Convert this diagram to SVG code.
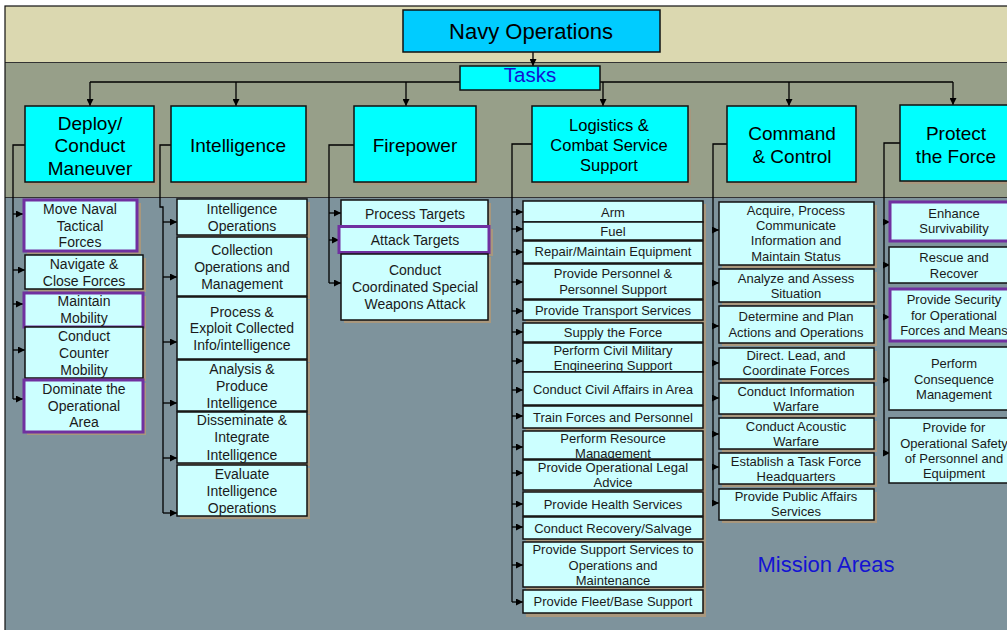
<svg xmlns="http://www.w3.org/2000/svg" width="1007" height="630" viewBox="0 0 1007 630">
<style>
.sh{fill:#a8977d}
.top{fill:#00ccff;stroke:#111;stroke-width:1.5}
.t1{fill:#00ffff;stroke:#111;stroke-width:1.5}
.c{fill:#ccffff;stroke:#111;stroke-width:1.5}
.p{fill:#ccffff;stroke:#7030a0;stroke-width:3}
text{font-family:"Liberation Sans",Arial,sans-serif;text-anchor:middle;fill:#1a1a1a}
.f22{font-size:22px;fill:#000}
.f19{font-size:19px;fill:#000}
.f16{font-size:16.5px;fill:#000}
.f14{font-size:14px}
.f13{font-size:13px}
.blue{fill:#1414d2}
.ln{fill:none;stroke:#000;stroke-width:1.3}
</style>
<defs>
<marker id="ah" viewBox="0 0 10 10" refX="10" refY="5" markerWidth="8" markerHeight="7" markerUnits="userSpaceOnUse" orient="auto"><path d="M0,0 L10,5 L0,10 z" fill="#000"/></marker>
</defs>
<rect x="0" y="0" width="1007" height="630" fill="#ffffff"/>
<g id="background">
<rect x="5" y="6" width="1010" height="57" fill="#dbd8b0"/>
<rect x="5" y="63" width="1010" height="135" fill="#979f89"/>
<rect x="5" y="198" width="1010" height="440" fill="#7e939c"/>
<line x1="5" y1="62.5" x2="1007" y2="62.5" stroke="#333" stroke-width="1"/>
<line x1="5" y1="197.5" x2="1007" y2="197.5" stroke="#333" stroke-width="1"/>
<rect x="5" y="6" width="1010" height="640" fill="none" stroke="#111" stroke-width="1.2"/>
</g>
<g id="connectors">
<path class="ln" d="M533,52 V66" marker-end="url(#ah)"/>
<path class="ln" d="M90,82 H953"/>
<path class="ln" d="M90,82 V106" marker-end="url(#ah)"/>
<path class="ln" d="M236,82 V106" marker-end="url(#ah)"/>
<path class="ln" d="M406,82 V106" marker-end="url(#ah)"/>
<path class="ln" d="M603,82 V106" marker-end="url(#ah)"/>
<path class="ln" d="M789,82 V106" marker-end="url(#ah)"/>
<path class="ln" d="M953,82 V105" marker-end="url(#ah)"/>
<path class="ln" d="M25,145 H13 V399"/>
<path class="ln" d="M13,214 H23" marker-end="url(#ah)"/>
<path class="ln" d="M13,270 H25" marker-end="url(#ah)"/>
<path class="ln" d="M13,304 H23" marker-end="url(#ah)"/>
<path class="ln" d="M13,350 H25" marker-end="url(#ah)"/>
<path class="ln" d="M13,399 H23" marker-end="url(#ah)"/>
<path class="ln" d="M171,145 H160 V207 H163 V513"/>
<path class="ln" d="M163,222 H177" marker-end="url(#ah)"/>
<path class="ln" d="M163,277 H177" marker-end="url(#ah)"/>
<path class="ln" d="M163,342 H177" marker-end="url(#ah)"/>
<path class="ln" d="M163,403 H177" marker-end="url(#ah)"/>
<path class="ln" d="M163,458 H177" marker-end="url(#ah)"/>
<path class="ln" d="M163,513 H177" marker-end="url(#ah)"/>
<path class="ln" d="M354,145 H329 V283"/>
<path class="ln" d="M329,213 H341" marker-end="url(#ah)"/>
<path class="ln" d="M329,240 H339" marker-end="url(#ah)"/>
<path class="ln" d="M329,283 H341" marker-end="url(#ah)"/>
<path class="ln" d="M532,144 H512 V602"/>
<path class="ln" d="M512,212 H523" marker-end="url(#ah)"/>
<path class="ln" d="M512,229 H523" marker-end="url(#ah)"/>
<path class="ln" d="M512,252 H523" marker-end="url(#ah)"/>
<path class="ln" d="M512,282 H523" marker-end="url(#ah)"/>
<path class="ln" d="M512,311 H523" marker-end="url(#ah)"/>
<path class="ln" d="M512,332 H523" marker-end="url(#ah)"/>
<path class="ln" d="M512,361 H523" marker-end="url(#ah)"/>
<path class="ln" d="M512,390 H523" marker-end="url(#ah)"/>
<path class="ln" d="M512,416 H523" marker-end="url(#ah)"/>
<path class="ln" d="M512,447 H523" marker-end="url(#ah)"/>
<path class="ln" d="M512,473 H523" marker-end="url(#ah)"/>
<path class="ln" d="M512,504 H523" marker-end="url(#ah)"/>
<path class="ln" d="M512,527 H523" marker-end="url(#ah)"/>
<path class="ln" d="M512,565 H523" marker-end="url(#ah)"/>
<path class="ln" d="M512,602 H523" marker-end="url(#ah)"/>
<path class="ln" d="M727,144 H713 V503"/>
<path class="ln" d="M713,230 H719" marker-end="url(#ah)"/>
<path class="ln" d="M713,283 H719" marker-end="url(#ah)"/>
<path class="ln" d="M713,326 H719" marker-end="url(#ah)"/>
<path class="ln" d="M713,363 H719" marker-end="url(#ah)"/>
<path class="ln" d="M713,398 H719" marker-end="url(#ah)"/>
<path class="ln" d="M713,434 H719" marker-end="url(#ah)"/>
<path class="ln" d="M713,467 H719" marker-end="url(#ah)"/>
<path class="ln" d="M713,503 H719" marker-end="url(#ah)"/>
<path class="ln" d="M900,143 H884 V453"/>
<path class="ln" d="M884,222 H890" marker-end="url(#ah)"/>
<path class="ln" d="M884,265 H890" marker-end="url(#ah)"/>
<path class="ln" d="M884,317 H890" marker-end="url(#ah)"/>
<path class="ln" d="M884,380 H890" marker-end="url(#ah)"/>
<path class="ln" d="M884,453 H890" marker-end="url(#ah)"/>
</g>
<g id="navy-operations">
<rect class="top" x="403" y="10" width="257" height="42"/>
<text class="f22" x="531" y="39">Navy  Operations</text>
</g>
<g id="tasks">
<rect class="t1" x="460" y="66" width="140" height="24"/>
<text class="f22 blue" x="530" y="82" style="font-size:20.5px">Tasks</text>
</g>
<g id="deploy">
<rect class="sh" x="28" y="109" width="129" height="76"/>
<rect class="t1" x="25" y="106" width="129" height="76"/>
<text class="f19"><tspan x="90" y="130">Deploy/</tspan><tspan x="90" y="152">Conduct</tspan><tspan x="90" y="175">Maneuver</tspan></text>
</g>
<g id="intelligence">
<rect class="sh" x="174" y="109" width="135" height="76"/>
<rect class="t1" x="171" y="106" width="135" height="76"/>
<text class="f19" x="238" y="152">Intelligence</text>
</g>
<g id="firepower">
<rect class="sh" x="357" y="109" width="122" height="76"/>
<rect class="t1" x="354" y="106" width="122" height="76"/>
<text class="f19" x="415" y="152">Firepower</text>
</g>
<g id="logistics">
<rect class="sh" x="535" y="109" width="156" height="76"/>
<rect class="t1" x="532" y="106" width="156" height="76"/>
<text class="f16"><tspan x="609" y="131">Logistics &amp;</tspan><tspan x="609" y="151">Combat Service</tspan><tspan x="609" y="171">Support</tspan></text>
</g>
<g id="command">
<rect class="sh" x="730" y="109" width="129" height="76"/>
<rect class="t1" x="727" y="106" width="129" height="76"/>
<text class="f19"><tspan x="792" y="140">Command</tspan><tspan x="792" y="163">&amp; Control</tspan></text>
</g>
<g id="protect">
<rect class="sh" x="903" y="108" width="130" height="76"/>
<rect class="t1" x="900" y="105" width="130" height="76"/>
<text class="f19"><tspan x="956" y="140">Protect</tspan><tspan x="956" y="163">the Force</tspan></text>
</g>
<g id="move-naval">
<rect class="sh" x="27" y="203" width="114" height="51"/>
<rect class="p" x="24" y="200" width="113" height="51"/>
<text class="f14"><tspan x="80" y="214">Move Naval</tspan><tspan x="80" y="230.7">Tactical</tspan><tspan x="80" y="247.3">Forces</tspan></text>
</g>
<g id="navigate">
<rect class="sh" x="28" y="258" width="118" height="34"/>
<rect class="c" x="25" y="255" width="118" height="34"/>
<text class="f14"><tspan x="84" y="269">Navigate &amp;</tspan><tspan x="84" y="285.7">Close Forces</tspan></text>
</g>
<g id="maintain-mobility">
<rect class="sh" x="27" y="296" width="119" height="34"/>
<rect class="p" x="24" y="293" width="119" height="34"/>
<text class="f14"><tspan x="84" y="306">Maintain</tspan><tspan x="84" y="323.3">Mobility</tspan></text>
</g>
<g id="counter-mobility">
<rect class="sh" x="28" y="330" width="118" height="51"/>
<rect class="c" x="25" y="327" width="118" height="51"/>
<text class="f14"><tspan x="84" y="341">Conduct</tspan><tspan x="84" y="358">Counter</tspan><tspan x="84" y="375">Mobility</tspan></text>
</g>
<g id="dominate">
<rect class="sh" x="27" y="383" width="119" height="52"/>
<rect class="p" x="24" y="380" width="119" height="52"/>
<text class="f14"><tspan x="84" y="394">Dominate the</tspan><tspan x="84" y="410.7">Operational</tspan><tspan x="84" y="427.3">Area</tspan></text>
</g>
<g id="intel-ops">
<rect class="sh" x="180" y="202" width="130" height="36"/>
<rect class="c" x="177" y="199" width="130" height="36"/>
<text class="f14"><tspan x="242" y="214.3">Intelligence</tspan><tspan x="242" y="230.7">Operations</tspan></text>
</g>
<g id="collection">
<rect class="sh" x="180" y="240" width="130" height="59"/>
<rect class="c" x="177" y="237" width="130" height="59"/>
<text class="f14"><tspan x="242" y="255">Collection</tspan><tspan x="242" y="271.7">Operations and</tspan><tspan x="242" y="289">Management</tspan></text>
</g>
<g id="process-exploit">
<rect class="sh" x="180" y="300" width="130" height="62"/>
<rect class="c" x="177" y="297" width="130" height="62"/>
<text class="f14"><tspan x="242" y="316.7">Process &amp;</tspan><tspan x="242" y="333.3">Exploit Collected</tspan><tspan x="242" y="350">Info/intelligence</tspan></text>
</g>
<g id="analysis">
<rect class="sh" x="180" y="363" width="130" height="51"/>
<rect class="c" x="177" y="360" width="130" height="51"/>
<text class="f14"><tspan x="242" y="374.3">Analysis &amp;</tspan><tspan x="242" y="391">Produce</tspan><tspan x="242" y="408.3">Intelligence</tspan></text>
</g>
<g id="disseminate">
<rect class="sh" x="180" y="415" width="130" height="51"/>
<rect class="c" x="177" y="412" width="130" height="51"/>
<text class="f14"><tspan x="242" y="425">Disseminate &amp;</tspan><tspan x="242" y="442">Integrate</tspan><tspan x="242" y="459.5">Intelligence</tspan></text>
</g>
<g id="evaluate">
<rect class="sh" x="180" y="468" width="130" height="51"/>
<rect class="c" x="177" y="465" width="130" height="51"/>
<text class="f14"><tspan x="242" y="479">Evaluate</tspan><tspan x="242" y="496">Intelligence</tspan><tspan x="242" y="512.7">Operations</tspan></text>
</g>
<g id="process-targets">
<rect class="sh" x="344" y="203" width="147" height="26"/>
<rect class="c" x="341" y="200" width="147" height="26"/>
<text class="f14" x="415" y="219">Process Targets</text>
</g>
<g id="attack-targets">
<rect class="sh" x="342" y="229" width="151" height="27"/>
<rect class="p" x="339" y="226.5" width="150" height="26"/>
<text class="f14" x="415" y="245">Attack Targets</text>
</g>
<g id="special-weapons">
<rect class="sh" x="344" y="257" width="147" height="66"/>
<rect class="c" x="341" y="254" width="147" height="66"/>
<text class="f14"><tspan x="415" y="275">Conduct</tspan><tspan x="415" y="292.3">Coordinated Special</tspan><tspan x="415" y="309">Weapons Attack</tspan></text>
</g>
<g id="log-shadow"><rect class="sh" x="526" y="204" width="180" height="413"/></g>
<g id="arm"><rect class="c" x="523" y="201" width="180" height="21"/><text class="f13" x="613" y="217">Arm</text></g>
<g id="fuel"><rect class="c" x="523" y="222" width="180" height="18"/><text class="f13" x="613" y="236">Fuel</text></g>
<g id="repair"><rect class="c" x="523" y="241" width="180" height="22"/><text class="f13" x="613" y="256.3">Repair/Maintain Equipment</text></g>
<g id="personnel"><rect class="c" x="523" y="264" width="180" height="35"/><text class="f13"><tspan x="613" y="278">Provide Personnel &amp;</tspan><tspan x="613" y="294">Personnel Support</tspan></text></g>
<g id="transport"><rect class="c" x="523" y="300" width="180" height="20"/><text class="f13" x="613" y="314.6">Provide Transport Services</text></g>
<g id="supply"><rect class="c" x="523" y="323" width="180" height="19"/><text class="f13" x="613" y="337">Supply the Force</text></g>
<g id="civil-engineering"><rect class="c" x="523" y="343" width="180" height="29"/><text class="f13"><tspan x="613" y="355.3">Perform Civil Military</tspan><tspan x="613" y="370.3">Engineering Support</tspan></text></g>
<g id="civil-affairs"><rect class="c" x="523" y="372" width="180" height="33"/><text class="f13" x="613" y="393.6">Conduct Civil Affairs in Area</text></g>
<g id="train"><rect class="c" x="523" y="406" width="180" height="22"/><text class="f13" x="613" y="422">Train Forces and Personnel</text></g>
<g id="resource"><rect class="c" x="523" y="431" width="180" height="28"/><text class="f13"><tspan x="613" y="443">Perform Resource</tspan><tspan x="613" y="458">Management</tspan></text></g>
<g id="legal"><rect class="c" x="523" y="460" width="180" height="30"/><text class="f13"><tspan x="613" y="472.3">Provide Operational Legal</tspan><tspan x="613" y="487.3">Advice</tspan></text></g>
<g id="health"><rect class="c" x="523" y="492" width="180" height="24"/><text class="f13" x="613" y="508.6">Provide Health Services</text></g>
<g id="recovery"><rect class="c" x="523" y="517" width="180" height="22"/><text class="f13" x="613" y="533">Conduct Recovery/Salvage</text></g>
<g id="support-services"><rect class="c" x="523" y="542" width="180" height="45"/><text class="f13"><tspan x="613" y="554">Provide Support Services to</tspan><tspan x="613" y="569.6">Operations and</tspan><tspan x="613" y="585.3">Maintenance</tspan></text></g>
<g id="fleet-base"><rect class="c" x="523" y="590" width="180" height="23"/><text class="f13" x="613" y="606.3">Provide Fleet/Base Support</text></g>
<g id="acquire"><rect class="sh" x="722" y="205" width="155" height="63"/><rect class="c" x="719" y="202" width="155" height="63"/><text class="f13"><tspan x="796" y="215.3">Acquire, Process</tspan><tspan x="796" y="230.3">Communicate</tspan><tspan x="796" y="245.3">Information and</tspan><tspan x="796" y="260.6">Maintain Status</tspan></text></g>
<g id="analyze"><rect class="sh" x="722" y="272" width="155" height="33"/><rect class="c" x="719" y="269" width="155" height="33"/><text class="f13"><tspan x="796" y="283">Analyze and Assess</tspan><tspan x="796" y="298">Situation</tspan></text></g>
<g id="determine"><rect class="sh" x="722" y="309" width="155" height="37"/><rect class="c" x="719" y="306" width="155" height="37"/><text class="f13"><tspan x="796" y="321.3">Determine and Plan</tspan><tspan x="796" y="337">Actions and Operations</tspan></text></g>
<g id="direct"><rect class="sh" x="722" y="351" width="155" height="31"/><rect class="c" x="719" y="348" width="155" height="31"/><text class="f13"><tspan x="796" y="359.6">Direct. Lead, and</tspan><tspan x="796" y="375.3">Coordinate Forces</tspan></text></g>
<g id="info-warfare"><rect class="sh" x="722" y="386" width="155" height="31"/><rect class="c" x="719" y="383" width="155" height="31"/><text class="f13"><tspan x="796" y="395.6">Conduct Information</tspan><tspan x="796" y="411.3">Warfare</tspan></text></g>
<g id="acoustic"><rect class="sh" x="722" y="421" width="155" height="31"/><rect class="c" x="719" y="418" width="155" height="31"/><text class="f13"><tspan x="796" y="431.3">Conduct Acoustic</tspan><tspan x="796" y="446.3">Warfare</tspan></text></g>
<g id="task-force"><rect class="sh" x="722" y="456" width="155" height="31"/><rect class="c" x="719" y="453" width="155" height="31"/><text class="f13"><tspan x="796" y="466.3">Establish a Task Force</tspan><tspan x="796" y="481.3">Headquarters</tspan></text></g>
<g id="public-affairs"><rect class="sh" x="722" y="492" width="155" height="31"/><rect class="c" x="719" y="489" width="155" height="31"/><text class="f13"><tspan x="796" y="501.3">Provide Public Affairs</tspan><tspan x="796" y="516.3">Services</tspan></text></g>
<g id="survivability"><rect class="p" x="890" y="202" width="130" height="39"/><text class="f13"><tspan x="954" y="218">Enhance</tspan><tspan x="954" y="233">Survivability</tspan></text></g>
<g id="rescue"><rect class="c" x="889" y="247" width="130" height="36"/><text class="f13"><tspan x="954" y="262.3">Rescue and</tspan><tspan x="954" y="278">Recover</tspan></text></g>
<g id="security"><rect class="p" x="890" y="289" width="130" height="52"/><text class="f13"><tspan x="954" y="304">Provide Security</tspan><tspan x="954" y="319.6">for Operational</tspan><tspan x="954" y="334.6">Forces and Means</tspan></text></g>
<g id="consequence"><rect class="c" x="889" y="347" width="130" height="63"/><text class="f13"><tspan x="954" y="368">Perform</tspan><tspan x="954" y="383.6">Consequence</tspan><tspan x="954" y="398.6">Management</tspan></text></g>
<g id="safety"><rect class="c" x="889" y="418" width="130" height="65"/><text class="f13"><tspan x="954" y="432.3">Provide for</tspan><tspan x="954" y="448">Operational Safety</tspan><tspan x="954" y="463">of Personnel and</tspan><tspan x="954" y="478">Equipment</tspan></text></g>
<text class="blue" x="826" y="572" style="font-size:22px">Mission Areas</text>
</svg>
